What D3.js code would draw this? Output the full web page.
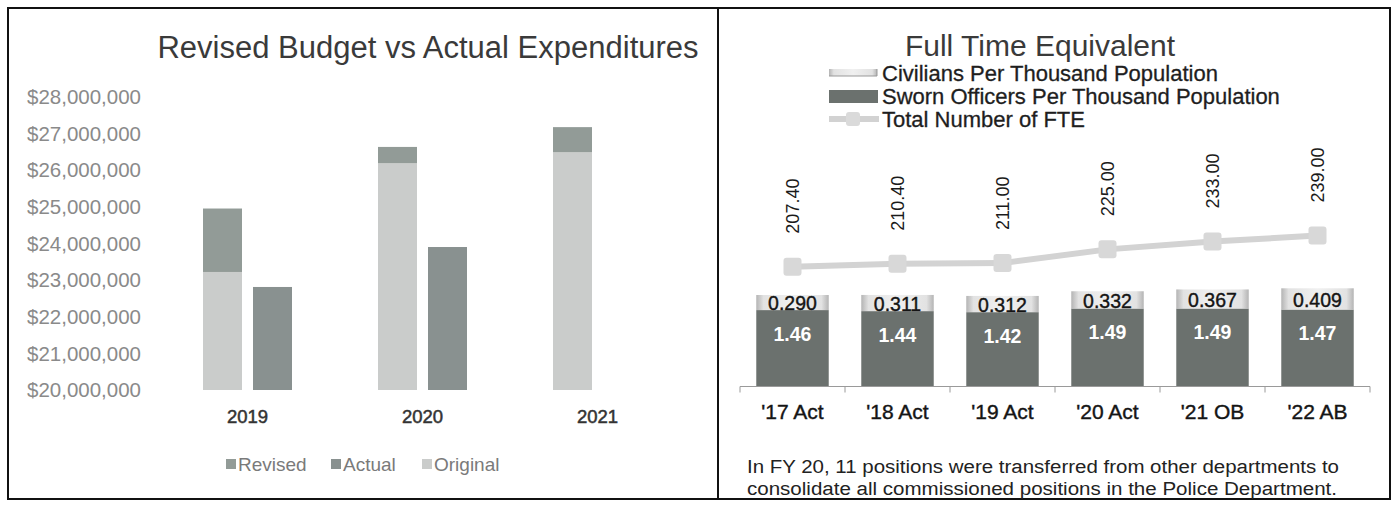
<!DOCTYPE html>
<html>
<head>
<meta charset="utf-8">
<script src="https://cdn.jsdelivr.net/npm/d3@7"></script>
<style>
  body { margin: 0; background: #fff; }
  svg { display: block; font-family: "Liberation Sans", Arial, sans-serif; }
</style>
</head>
<body>
<svg id="chart"></svg>
<script>
const width = 1393;
const height = 510;

// left chart data
const budgetYears = ["2019", "2020", "2021"];
const revised = [24950000, 26630000, 27170000];
const original = [23220000, 26190000, 26490000];
const actual = [22810000, 23900000, null];
const budgetTicks = [20000000, 21000000, 22000000, 23000000, 24000000, 25000000, 26000000, 27000000, 28000000];

// right chart data
const fteCats = ["'17 Act", "'18 Act", "'19 Act", "'20 Act", "'21 OB", "'22 AB"];
const sworn = [1.46, 1.44, 1.42, 1.49, 1.49, 1.47];
const civilians = [0.290, 0.311, 0.312, 0.332, 0.367, 0.409];
const totalFte = [207.40, 210.40, 211.00, 225.00, 233.00, 239.00];
const footnote = [
  "In FY 20, 11 positions were transferred from other departments to",
  "consolidate all commissioned positions in the Police Department."
];

const svg = d3.select("#chart")
    .attr("width", width)
    .attr("height", height);

svg.append("rect").attr("width", width).attr("height", height).attr("fill", "#fff");

// panel borders
svg.append("rect")
    .attr("x", 8).attr("y", 8).attr("width", 710).attr("height", 491)
    .attr("fill", "none").attr("stroke", "#111").attr("stroke-width", 2);
svg.append("rect")
    .attr("x", 718).attr("y", 8).attr("width", 672).attr("height", 491)
    .attr("fill", "none").attr("stroke", "#111").attr("stroke-width", 2);

// ---------- left: revised budget vs actual ----------
const colRevised = "#929b97";
const colActual = "#899190";
const colOriginal = "#cacccb";

svg.append("text")
    .attr("x", 428).attr("y", 58)
    .attr("text-anchor", "middle")
    .style("font-size", "31px")
    .style("fill", "#3a3a3a")
    .text("Revised Budget vs Actual Expenditures");

const yB = d3.scaleLinear().domain([20000000, 28000000]).range([390, 96.7]);
const xB = d3.scaleBand().domain(budgetYears).range([160, 685]);
const fmt = d3.format("$,");

svg.append("g").selectAll("text")
    .data(budgetTicks)
    .join("text")
    .attr("x", 141)
    .attr("y", d => yB(d))
    .attr("dy", "0.35em")
    .attr("text-anchor", "end")
    .style("font-size", "20.5px")
    .style("fill", "#8a8a8a")
    .text(d => fmt(d));

const barW = 39;
const gB = svg.append("g");

gB.selectAll(".rev")
    .data(budgetYears)
    .join("rect")
    .attr("x", d => xB(d) + xB.bandwidth() / 2 - 25 - barW / 2)
    .attr("y", (d, i) => yB(revised[i]))
    .attr("width", barW)
    .attr("height", (d, i) => yB(20000000) - yB(revised[i]))
    .attr("fill", colRevised);

gB.selectAll(".orig")
    .data(budgetYears)
    .join("rect")
    .attr("x", d => xB(d) + xB.bandwidth() / 2 - 25 - barW / 2)
    .attr("y", (d, i) => yB(original[i]))
    .attr("width", barW)
    .attr("height", (d, i) => yB(20000000) - yB(original[i]))
    .attr("fill", colOriginal);

gB.selectAll(".act")
    .data(budgetYears.filter((d, i) => actual[i] != null))
    .join("rect")
    .attr("x", d => xB(d) + xB.bandwidth() / 2 + 25 - barW / 2)
    .attr("y", d => yB(actual[budgetYears.indexOf(d)]))
    .attr("width", barW)
    .attr("height", d => yB(20000000) - yB(actual[budgetYears.indexOf(d)]))
    .attr("fill", colActual);

svg.append("g").selectAll("text")
    .data(budgetYears)
    .join("text")
    .attr("x", d => xB(d) + xB.bandwidth() / 2)
    .attr("y", 423)
    .attr("text-anchor", "middle")
    .style("font-size", "18.5px")
    .style("fill", "#333")
    .style("stroke", "#333")
    .style("stroke-width", "0.5px")
    .text(d => d);

const budgetLegend = [
  {name: "Revised", color: colRevised, x: 226},
  {name: "Actual", color: colActual, x: 331},
  {name: "Original", color: colOriginal, x: 422}
];
const bl = svg.append("g").selectAll("g")
    .data(budgetLegend)
    .join("g")
    .attr("transform", d => `translate(${d.x},464)`);
bl.append("rect")
    .attr("x", 0).attr("y", -5).attr("width", 10).attr("height", 10)
    .attr("fill", d => d.color);
bl.append("text")
    .attr("x", 12).attr("dy", "0.35em")
    .style("font-size", "19px")
    .style("fill", "#7a7a7a")
    .text(d => d.name);

// ---------- right: full time equivalent ----------
const colSworn = "#6b716e";

const defs = svg.append("defs");
const grad = defs.append("linearGradient").attr("id", "civGrad")
    .attr("x1", "0%").attr("x2", "100%").attr("y1", "0%").attr("y2", "0%");
grad.append("stop").attr("offset", "0%").attr("stop-color", "#b4b4b4");
grad.append("stop").attr("offset", "10%").attr("stop-color", "#e2e2e2");
grad.append("stop").attr("offset", "50%").attr("stop-color", "#f0f0f0");
grad.append("stop").attr("offset", "90%").attr("stop-color", "#e2e2e2");
grad.append("stop").attr("offset", "100%").attr("stop-color", "#b4b4b4");

svg.append("text")
    .attr("x", 1040).attr("y", 56)
    .attr("text-anchor", "middle")
    .style("font-size", "30px")
    .style("fill", "#3a3a3a")
    .text("Full Time Equivalent");

// legend
const lg = svg.append("g");
lg.append("rect").attr("x", 829).attr("y", 69).attr("width", 48).attr("height", 7).attr("fill", "url(#civGrad)");
lg.append("path").attr("d", "M829,76H877M877,69V76").attr("stroke", "#999").attr("fill", "none");
lg.append("rect").attr("x", 829).attr("y", 90).attr("width", 49).attr("height", 13).attr("fill", colSworn);
lg.append("line").attr("x1", 829).attr("x2", 879).attr("y1", 119).attr("y2", 119)
    .attr("stroke", "#d2d2d2").attr("stroke-width", 6);
lg.append("rect").attr("x", 846).attr("y", 112).attr("width", 14).attr("height", 14).attr("rx", 3).attr("fill", "#dadada");
const fteLegend = ["Civilians Per Thousand Population", "Sworn Officers Per Thousand Population", "Total Number of FTE"];
lg.selectAll("text")
    .data(fteLegend)
    .join("text")
    .attr("x", 882)
    .attr("y", (d, i) => 73 + i * 23)
    .attr("dy", "0.35em")
    .style("font-size", "22px")
    .style("fill", "#1e1e1e")
    .style("stroke", "#1e1e1e")
    .style("stroke-width", "0.3px")
    .text(d => d);

const xF = d3.scaleBand().domain(fteCats).range([740, 1370]).paddingInner(0.31).paddingOuter(0.155);
const yBar = d3.scaleLinear().domain([0, 2]).range([386, 282]);
const yLine = d3.scaleLinear().domain([150, 260]).range([323, 215]);

const gF = svg.append("g");
gF.selectAll(".sworn")
    .data(fteCats)
    .join("rect")
    .attr("x", d => xF(d))
    .attr("y", (d, i) => yBar(sworn[i]))
    .attr("width", xF.bandwidth())
    .attr("height", (d, i) => yBar(0) - yBar(sworn[i]))
    .attr("fill", colSworn);

gF.selectAll(".civ")
    .data(fteCats)
    .join("rect")
    .attr("x", d => xF(d))
    .attr("y", (d, i) => yBar(sworn[i] + civilians[i]))
    .attr("width", xF.bandwidth())
    .attr("height", (d, i) => yBar(sworn[i]) - yBar(sworn[i] + civilians[i]))
    .attr("fill", "url(#civGrad)");

gF.selectAll(".civLabel")
    .data(fteCats)
    .join("text")
    .attr("x", d => xF(d) + xF.bandwidth() / 2)
    .attr("y", (d, i) => yBar(sworn[i] + civilians[i] / 2) + 1)
    .attr("dy", "0.35em")
    .attr("text-anchor", "middle")
    .style("font-size", "19.5px")
    .style("fill", "#151515")
    .style("stroke", "#151515")
    .style("stroke-width", "0.4px")
    .text((d, i) => civilians[i].toFixed(3));

gF.selectAll(".swornLabel")
    .data(fteCats)
    .join("text")
    .attr("x", d => xF(d) + xF.bandwidth() / 2)
    .attr("y", (d, i) => yBar(sworn[i]) + 24)
    .attr("dy", "0.35em")
    .attr("text-anchor", "middle")
    .style("font-size", "19.5px")
    .style("font-weight", "bold")
    .style("fill", "#fff")
    .text((d, i) => sworn[i].toFixed(2));

// category axis
const axisY = 386.5;
gF.append("line")
    .attr("x1", 740).attr("x2", 1370).attr("y1", axisY).attr("y2", axisY)
    .attr("stroke", "#9a9a9a").attr("stroke-width", 1.2);
const bounds = fteCats.map(d => xF(d) - xF.step() * xF.paddingInner() / 2).concat([1370]);
gF.selectAll(".tick")
    .data(bounds)
    .join("line")
    .attr("x1", d => d).attr("x2", d => d)
    .attr("y1", axisY).attr("y2", axisY + 6)
    .attr("stroke", "#9a9a9a");

gF.selectAll(".catLabel")
    .data(fteCats)
    .join("text")
    .attr("x", d => xF(d) + xF.bandwidth() / 2)
    .attr("y", 412)
    .attr("dy", "0.35em")
    .attr("text-anchor", "middle")
    .style("font-size", "21px")
    .style("fill", "#151515")
    .style("stroke", "#151515")
    .style("stroke-width", "0.4px")
    .text(d => d);

// total FTE line
const line = d3.line()
    .x((d, i) => xF(fteCats[i]) + xF.bandwidth() / 2)
    .y(d => yLine(d));
gF.append("path")
    .datum(totalFte)
    .attr("d", line)
    .attr("fill", "none")
    .attr("stroke", "#d3d3d3")
    .attr("stroke-width", 6);
gF.selectAll(".marker")
    .data(totalFte)
    .join("rect")
    .attr("x", (d, i) => xF(fteCats[i]) + xF.bandwidth() / 2 - 9)
    .attr("y", d => yLine(d) - 9)
    .attr("width", 18).attr("height", 18).attr("rx", 3)
    .attr("fill", "#d8d8d8");
gF.selectAll(".fteLabel")
    .data(totalFte)
    .join("text")
    .attr("transform", (d, i) => `translate(${xF(fteCats[i]) + xF.bandwidth() / 2},${yLine(d) - 33}) rotate(-90)`)
    .attr("dy", "0.35em")
    .style("font-size", "18px")
    .style("fill", "#1a1a1a")
    .text(d => d.toFixed(2));

// footnote
svg.append("g").selectAll("text")
    .data(footnote)
    .join("text")
    .attr("x", 747)
    .attr("y", (d, i) => 467 + i * 22)
    .attr("dy", "0.35em")
    .style("font-size", "18px")
    .style("fill", "#222")
    .text(d => d)
    .attr("textLength", (d, i) => i === 0 ? 592 : 590)
    .attr("lengthAdjust", "spacingAndGlyphs");
</script>
</body>
</html>
